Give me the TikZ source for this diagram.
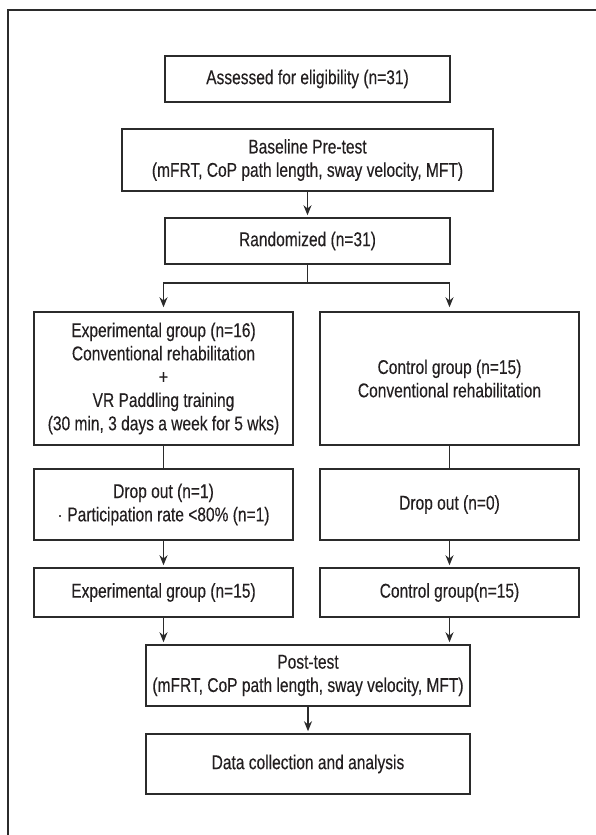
\documentclass[tikz,border=0pt]{standalone}
\usepackage{fontspec}
\setmainfont{Liberation Sans}[FakeStretch=0.78, FakeBold=0.25]
\usepackage{xcolor}
\usetikzlibrary{arrows.meta}
\definecolor{line-grey}{HTML}{2B2B2B}
\definecolor{text-dark}{HTML}{231F20}

\begin{document}
\begin{tikzpicture}[x=0.5bp, y=-0.5bp,
      every node/.style={font=\fontsize{10}{11.7}\selectfont, text=text-dark},
      box/.style={draw=line-grey, line width=0.75bp, align=center, inner sep=0pt},
      arr/.style={-{Stealth[length=5bp, width=4bp]}, draw=line-grey,
        line width=0.65bp, shorten >=1bp},
      conn/.style={draw=line-grey, line width=0.65bp}]
    \useasboundingbox (0,0) rectangle (596,835);
    \draw[conn] (8,835) -- (8,10) -- (596,10);

    \node[box, minimum width=142.5bp, minimum height=23bp] (assess) at (307.5,79)
      {Assessed for eligibility (n=31)};
    \node[box, minimum width=185.5bp, minimum height=31bp] (pretest) at (307.5,160)
      {Baseline Pre-test\\(mFRT, CoP path length, sway velocity, MFT)};
    \node[box, minimum width=142.5bp, minimum height=23bp] (random) at (307.5,241)
      {Randomized (n=31)};

    \node[box, minimum width=129.5bp, minimum height=66.5bp] (expgrp) at (163.5,378.5)
      {Experimental group (n=16)\\Conventional rehabilitation\\+\\VR Paddling training\\(30 min, 3 days a week for 5 wks)};
    \node[box, minimum width=129.5bp, minimum height=66.5bp] (ctrlgrp) at (449.5,378.5)
      {Control group (n=15)\\Conventional rehabilitation};

    \node[box, minimum width=129.5bp, minimum height=35.5bp] (expdrop) at (163.5,504.5)
      {Drop out (n=1)\\$\cdot$ Participation rate <80\% (n=1)};
    \node[box, minimum width=129.5bp, minimum height=35.5bp] (ctrldrop) at (449.5,504.5)
      {Drop out (n=0)};

    \node[box, minimum width=129.5bp, minimum height=24.5bp] (expfin) at (163.5,592.5)
      {Experimental group (n=15)};
    \node[box, minimum width=129.5bp, minimum height=24.5bp] (ctrlfin) at (449.5,592.5)
      {Control group(n=15)};

    \node[box, minimum width=162bp, minimum height=30.5bp] (posttest) at (308,675.5)
      {Post-test\\(mFRT, CoP path length, sway velocity, MFT)};
    \node[box, minimum width=162bp, minimum height=30bp] (analysis) at (308,764)
      {Data collection and analysis};

    \coordinate (split) at (307.5,283);
    \draw[arr] (pretest) -- (random);
    \draw[conn] (random) -- (split);
    \draw[arr, shorten >=2bp] (split) -| (expgrp.north);
    \draw[arr, shorten >=2bp] (split) -| (ctrlgrp.north);
    \draw[conn] (expgrp) -- (expdrop);
    \draw[conn] (ctrlgrp) -- (ctrldrop);
    \draw[arr] (expdrop) -- (expfin);
    \draw[arr] (ctrldrop) -- (ctrlfin);
    \draw[arr] (expfin.south) -- (expfin.south |- posttest.north);
    \draw[arr] (ctrlfin.south) -- (ctrlfin.south |- posttest.north);
    \draw[arr] (posttest) -- (analysis);
  \end{tikzpicture}
\end{document}
